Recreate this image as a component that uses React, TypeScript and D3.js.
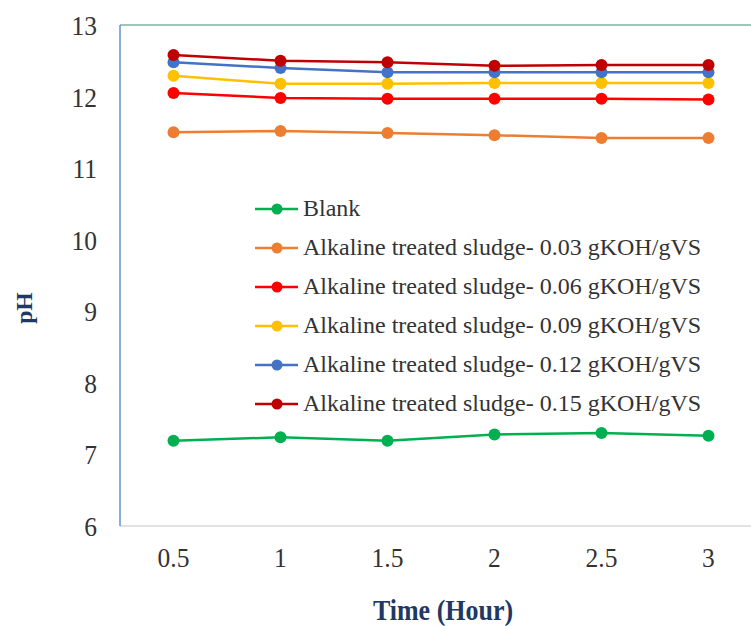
import React from "react";
import * as d3 from "d3";

const times = ["0.5", "1", "1.5", "2", "2.5", "3"];
const seriesNames = [
  "Blank",
  "Alkaline treated sludge- 0.03 gKOH/gVS",
  "Alkaline treated sludge- 0.06 gKOH/gVS",
  "Alkaline treated sludge- 0.09 gKOH/gVS",
  "Alkaline treated sludge- 0.12 gKOH/gVS",
  "Alkaline treated sludge- 0.15 gKOH/gVS",
];
const blank = [7.19, 7.24, 7.19, 7.28, 7.3, 7.26];
const koh003 = [11.5, 11.52, 11.49, 11.46, 11.42, 11.42];
const koh006 = [12.05, 11.98, 11.97, 11.97, 11.97, 11.96];
const koh009 = [12.29, 12.18, 12.18, 12.19, 12.19, 12.19];
const koh012 = [12.48, 12.4, 12.34, 12.34, 12.34, 12.34];
const koh015 = [12.58, 12.5, 12.48, 12.43, 12.44, 12.44];
const yTicks = [6, 7, 8, 9, 10, 11, 12, 13];
const colors = ["#00B050", "#ED7D31", "#FF0000", "#FFC000", "#4472C4", "#C00000"];

const allSeries = [blank, koh003, koh006, koh009, koh012, koh015];

export default function App() {
  const W = 751, H = 626;
  const left = 120, top = 25, bottom = 526;
  const bandW = 107;
  const x = d3.scaleBand<string>().domain(times).range([left, left + bandW * times.length]);
  const y = d3.scaleLinear().domain([6, 13]).range([bottom, top]);
  const cx = (t: string) => (x(t) as number) + x.bandwidth() / 2;
  const line = d3
    .line<number>()
    .x((_, i) => cx(times[i]))
    .y((d) => y(d));
  const font = "'Liberation Serif', 'Times New Roman', serif";
  const legX = 255, legY0 = 209, legStep = 39;
  return (
    <svg width={W} height={H} style={{ position: "absolute", left: 0, top: 0, background: "#fff" }}>
      <rect x={0} y={0} width={W} height={H} fill="#fff" />
      <line x1={left} x2={W} y1={top} y2={top} stroke="#3E8E6E" strokeWidth={1.2} />
      <line x1={left} x2={W} y1={bottom} y2={bottom} stroke="#D9D9D9" strokeWidth={1.5} />
      <line x1={left} x2={left} y1={top} y2={bottom} stroke="#4A86C8" strokeWidth={1.3} />
      {yTicks.map((t) => (
        <g key={t} transform={`translate(97,${y(t) + 10}) scale(1,1.1)`}>
          <text x={0} y={0} textAnchor="end" fontFamily={font} fontSize={25.5} fill="#333">
            {t}
          </text>
        </g>
      ))}
      {times.map((t) => (
        <g key={t} transform={`translate(${cx(t)},567) scale(1,1.1)`}>
          <text x={0} y={0} textAnchor="middle" fontFamily={font} fontSize={25.5} fill="#333">
            {t}
          </text>
        </g>
      ))}
      {allSeries.map((s, si) => (
        <g key={si}>
          <path d={line(s) || ""} fill="none" stroke={colors[si]} strokeWidth={2.5} />
          {s.map((v, i) => (
            <circle key={i} cx={cx(times[i])} cy={y(v)} r={6} fill={colors[si]} />
          ))}
        </g>
      ))}
      {seriesNames.map((n, i) => {
        const ly = legY0 + i * legStep;
        return (
          <g key={n}>
            <line x1={legX} x2={legX + 43} y1={ly} y2={ly} stroke={colors[i]} strokeWidth={2.5} />
            <circle cx={legX + 22} cy={ly} r={5.5} fill={colors[i]} />
            <g transform={`translate(${legX + 48},${ly + 7}) scale(1.092,1.02)`}>
              <text x={0} y={0} fontFamily={font} fontSize={22} fill="#333">
                {n}
              </text>
            </g>
          </g>
        );
      })}
      <g transform={`translate(32,308) rotate(-90) scale(1.08,1.05)`}>
        <text x={0} y={0} textAnchor="middle" fontFamily={font} fontWeight="bold" fontSize={22} fill="#1F3864">
          pH
        </text>
      </g>
      <g transform={`translate(443,620) scale(1,1.15)`}>
        <text x={0} y={0} textAnchor="middle" fontFamily={font} fontWeight="bold" fontSize={26} fill="#1F3864">
          Time (Hour)
        </text>
      </g>
    </svg>
  );
}
